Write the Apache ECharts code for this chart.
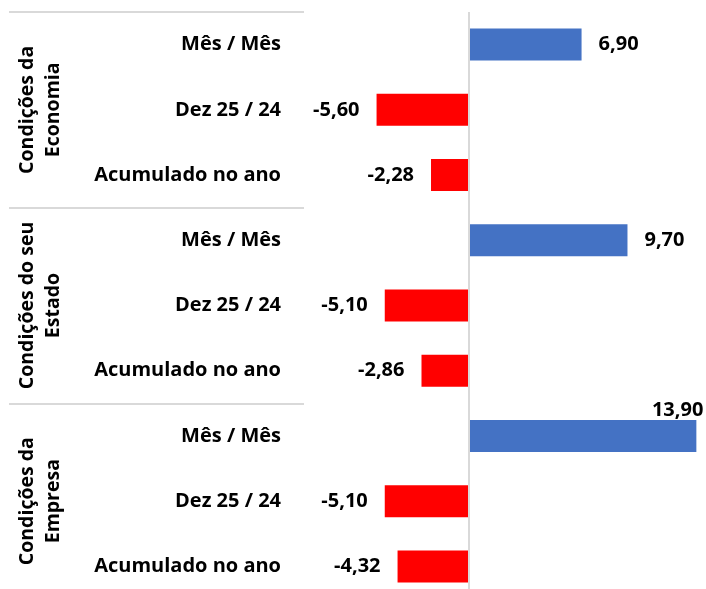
<!DOCTYPE html>
<html>
<head>
<meta charset="utf-8">
<script src="https://cdn.jsdelivr.net/npm/echarts@6/dist/echarts.min.js"></script>
<style>
html,body{margin:0;padding:0;background:#fff;overflow:hidden;}
#chart{width:706px;height:600px;}
</style>
</head>
<body>
<div id="chart"></div>
<script>
const categories = ['Mês / Mês','Dez 25 / 24','Acumulado no ano','Mês / Mês','Dez 25 / 24','Acumulado no ano','Mês / Mês','Dez 25 / 24','Acumulado no ano'];
const groups = ['Condições da\nEconomia','Condições do seu\nEstado','Condições da\nEmpresa'];
const values = [6.90, -5.60, -2.28, 9.70, -5.10, -2.86, 13.90, -5.10, -4.32];

const FONT = 'Open Sans';
const FS = 20;
const fmt = v => v.toFixed(2).replace('.', ',');

const data = values.map((v, i) => {
  const item = {
    value: v,
    itemStyle: { color: v >= 0 ? '#4472C4' : '#FF0000' },
    label: { position: v >= 0 ? 'right' : 'left' }
  };
  if (v === Math.max(...values)) {
    item.label = { position: ['100%', 0], align: 'right', verticalAlign: 'bottom', offset: [7, 0] };
  }
  return item;
});

const chart = echarts.init(document.getElementById('chart'));
chart.setOption({
  animation: false,
  grid: { left: 370, top: 12, width: 328, height: 587, containLabel: false },
  xAxis: {
    type: 'value', min: -6, max: 14,
    show: false
  },
  yAxis: [
    {
      type: 'category', data: categories, inverse: true,
      axisLine: { show: false }, axisTick: { show: false },
      axisLabel: { interval: 0, margin: 89, fontFamily: FONT, fontWeight: 'bold', fontSize: FS, color: '#000' }
    },
    {
      type: 'category', data: groups, inverse: true, position: 'left', offset: 66,
      axisLine: { show: false },
      axisTick: { show: true, interval: 0, length: 295, lineStyle: { color: '#d9d9d9', width: 2 } },
      axisLabel: { interval: 0, rotate: 90, margin: 264, align: 'center', verticalAlign: 'middle', lineHeight: 26,
        fontFamily: FONT, fontWeight: 'bold', fontSize: 19.5, color: '#000' }
    }
  ],
  series: [{
    type: 'bar', yAxisIndex: 0, barWidth: 32, data: data,
    label: { show: true, distance: 17, formatter: p => fmt(p.value),
      fontFamily: FONT, fontWeight: 'bold', fontSize: FS, color: '#000' },
    markLine: {
      silent: true, symbol: 'none', label: { show: false },
      lineStyle: { color: '#d9d9d9', width: 2, type: 'solid' },
      data: [{ xAxis: 0 }]
    }
  }]
});
</script>
</body>
</html>
